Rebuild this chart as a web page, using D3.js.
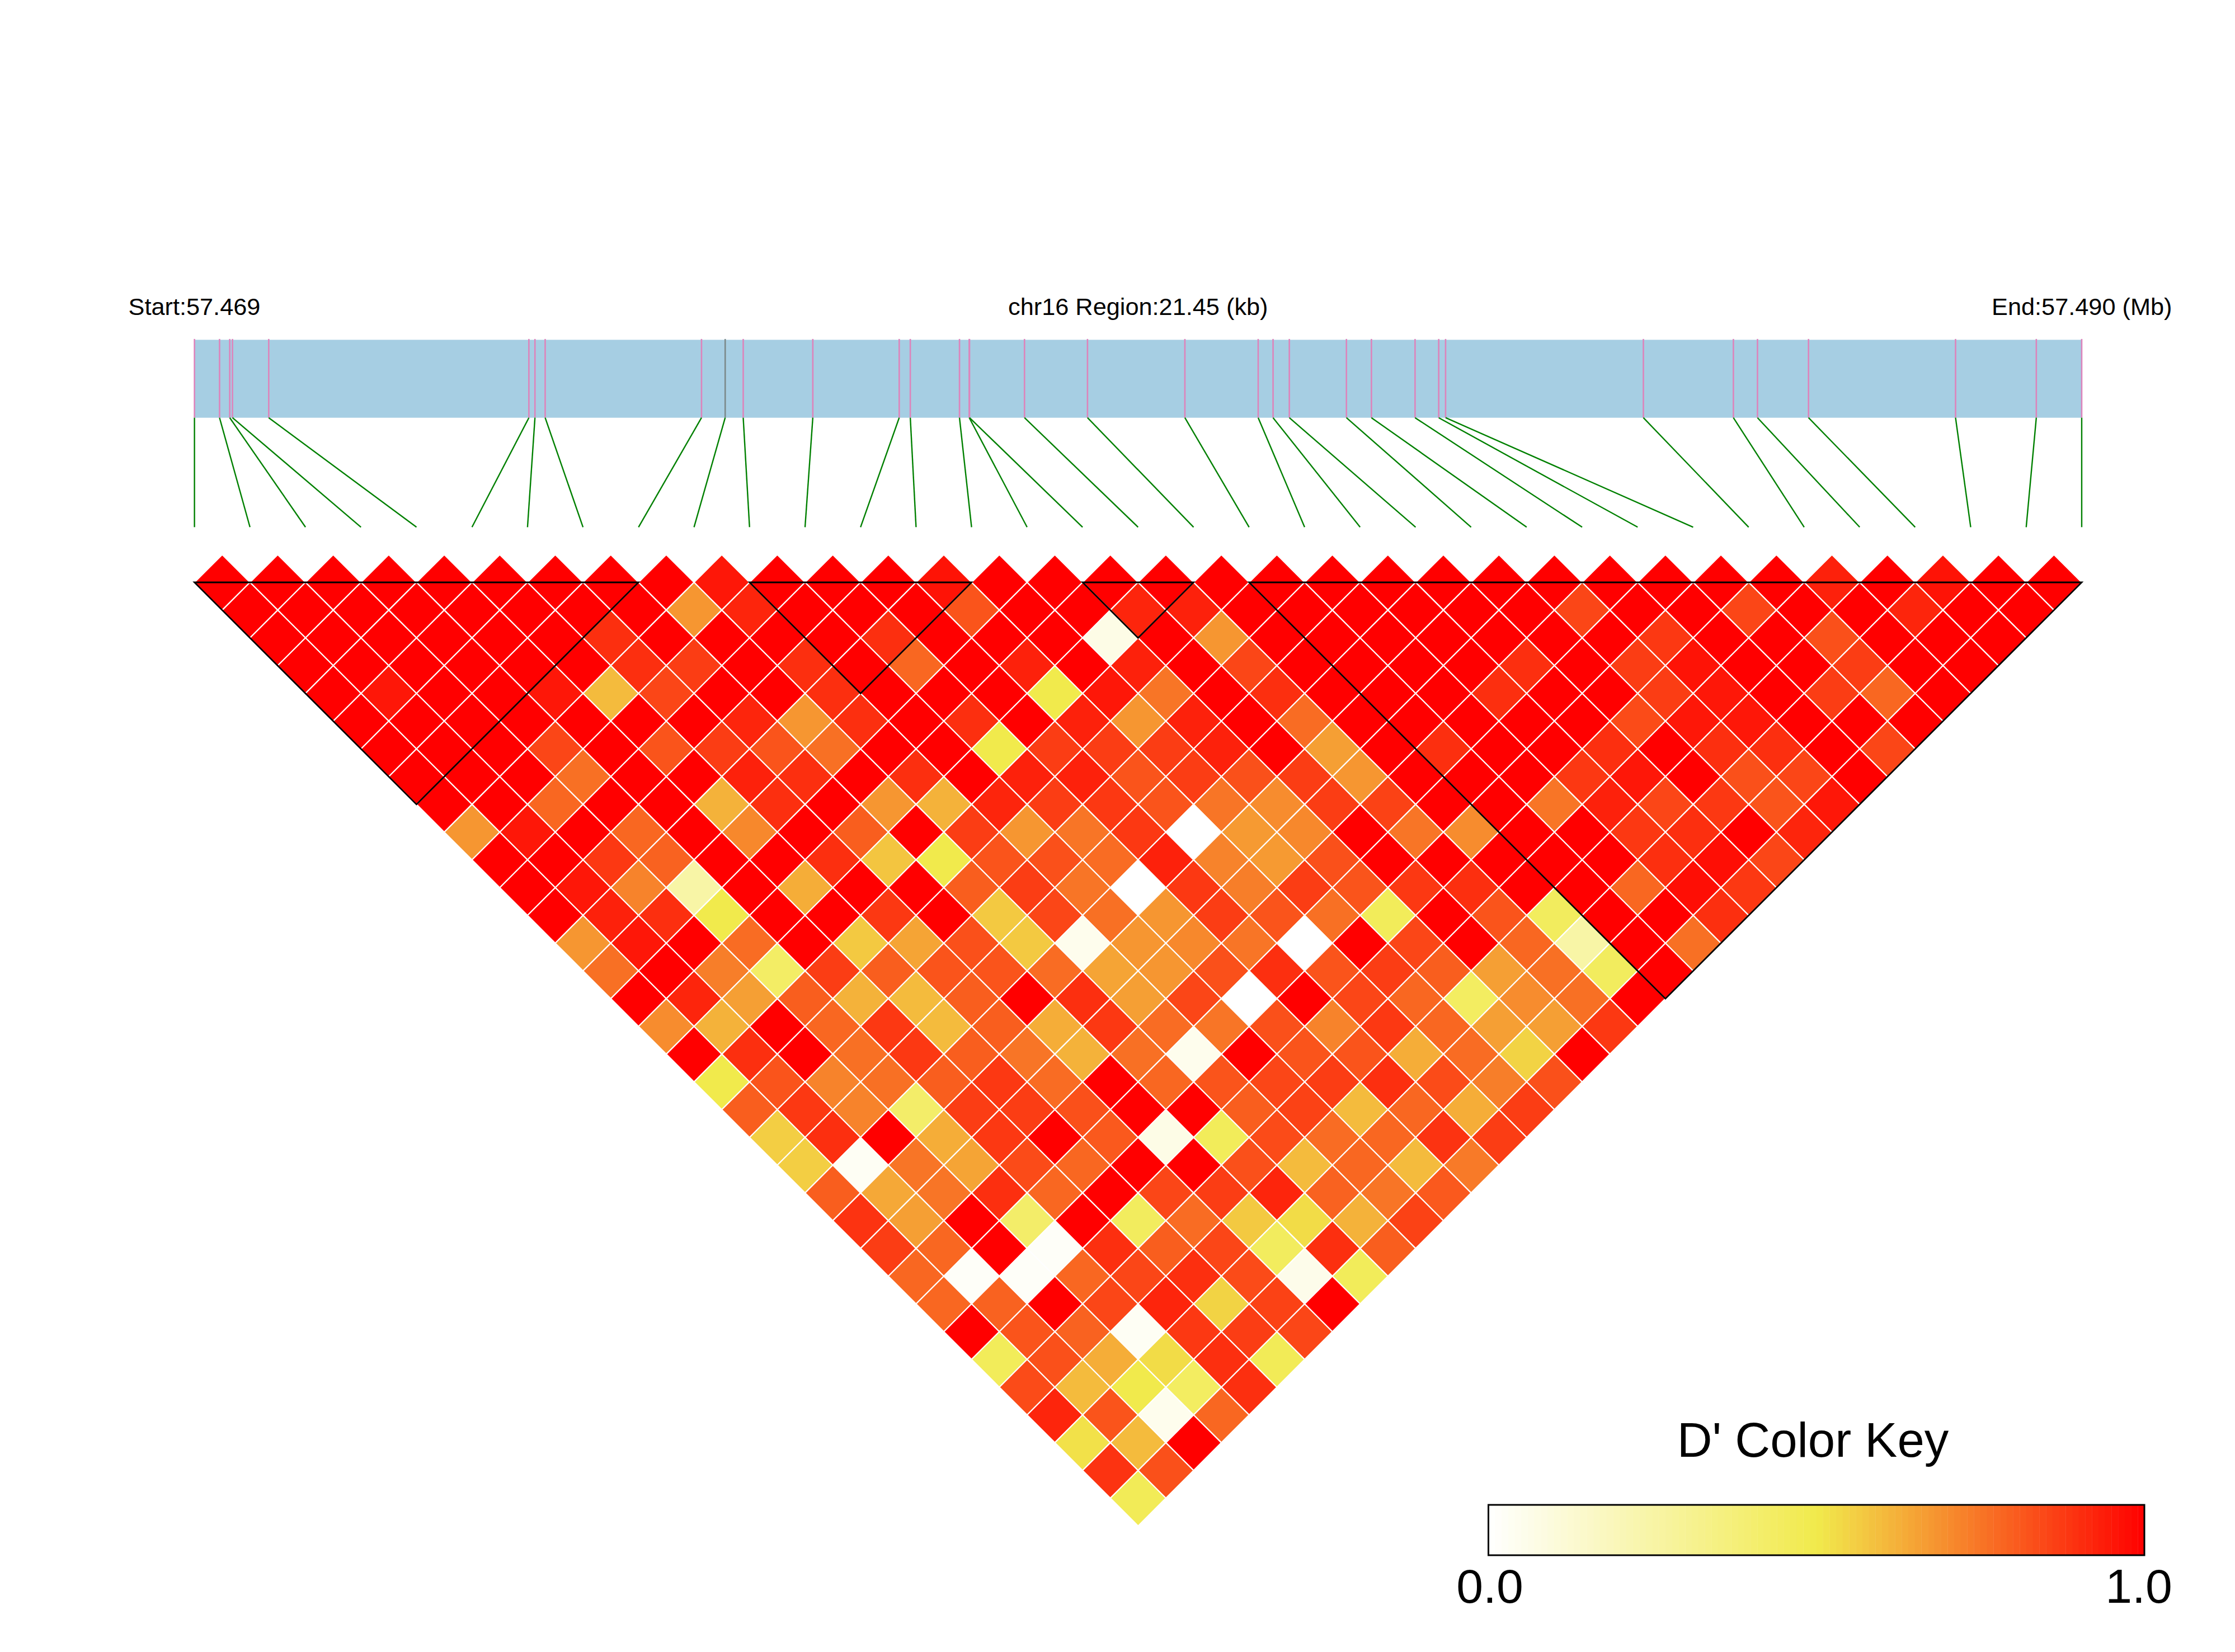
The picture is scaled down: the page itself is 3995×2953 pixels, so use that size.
<!DOCTYPE html>
<html><head><meta charset="utf-8">
<script src="https://cdn.jsdelivr.net/npm/d3@7/dist/d3.min.js"></script>
<style>html,body{margin:0;padding:0;background:#fff}svg{display:block}text{font-family:"Liberation Sans",Arial,sans-serif;fill:#000}</style>
</head><body><svg id="c" width="3995" height="2953"></svg>
<script>
// SNP positions, kb from region start
const snpKb = [0,.285,.401,.432,.844,3.801,3.870,3.986,5.763,6.032,6.237,7.028,8.010,8.136,8.695,8.806,8.809,9.434,10.150,11.257,12.090,12.259,12.444,13.093,13.377,13.873,14.142,14.220,16.468,17.491,17.765,18.345,20.016,20.934,21.45];
const greySnp = [9];
const regionKb = 21.45;
// haplotype blocks: first and last SNP index
const blockStart = [0,10,16,19];
const blockEnd = [8,14,18,34];
// D' values: rowN holds pairs (a, a+N+1), a = 0...
const row0=[1,1,1,1,1,1,1,1,1,.95,1,1,1,.96,1,1,1,1,1,1,1,1,1,1,1,1,1,1,1,.93,1,.96,1,1];
const row1=[1,1,1,1,1,1,1,1,.68,.92,1,1,1,.82,1,1,.92,.93,1,1,1,1,1,1,.85,1,1,.85,1,1,.92,1,1];
const row2=[1,1,1,1,1,1,.9,1,1,1,1,.9,1,1,1,.07,1,.68,1,1,1,1,1,1,1,.88,1,1,.83,1,1,1];
const row3=[1,1,1,1,1,1,.9,.87,1,.9,1,.78,1,.93,1,.93,1,.85,1,1,1,1,.9,1,.87,.96,1,1,.87,1,1];
const row4=[1,.95,1,1,.95,.6,.85,1,1,.9,1,1,1,.5,.95,.75,1,.9,1,1,1,.9,1,1,.87,.95,1,.87,.78,1];
const row5=[1,1,1,1,1,1,1,.92,.68,.9,1,.9,1,.93,.68,.93,1,.77,1,1,1,1,1,.84,.95,.95,1,1,1];
const row6=[1,1,1,.85,1,.82,.87,.82,.76,1,1,.5,.87,.87,.87,.93,1,.66,1,.9,1,1,.9,1,.9,.9,1,.85];
const row7=[1,1,1,.76,1,1,.93,.9,1,.9,1,.93,.93,.82,.87,.83,.87,.68,1,1,1,.88,.95,1,.83,.85,1];
const row8=[1,1,.78,1,1,.62,.9,1,.68,.62,.92,.87,.88,.82,.75,.7,.87,.86,1,1,.75,.93,.85,.88,.82,.95];
const row9=[.68,.95,1,.78,1,.71,1,.8,1,.87,.68,.75,.88,0,.67,.71,1,.75,.7,1,1,.88,.9,1,.92];
const row10=[1,1,.88,.79,1,1,.9,.58,.5,.82,.83,.77,.93,.72,.67,.83,1,1,1,1,1,.9,.97,.85];
const row11=[1,.95,.72,.25,1,.63,1,1,.8,.87,.75,0,.88,.73,.87,.82,.88,.9,1,1,.78,.97,.88];
const row12=[1,.93,.9,.5,1,1,.88,1,.57,.85,.76,.68,.87,.82,.76,.46,1,.82,.45,1,1,.9];
const row13=[.68,.95,1,.77,1,.57,.65,.83,.57,.05,.68,.71,.75,0,1,.85,1,.78,.25,1,.76];
const row14=[.76,1,.73,.43,.87,.8,.82,.82,.77,.65,.68,.83,.9,.82,.87,.8,.66,.76,.45,1];
const row15=[1,.92,.66,.8,.62,.6,.8,1,.9,.66,.85,0,1,.85,.78,.44,.7,.76,1];
const row16=[.7,.62,1,.78,.88,.6,.8,.63,.88,.77,.75,.83,.72,.88,.78,.66,.66,.88];
const row17=[1,.9,1,.76,.88,.8,.75,.62,.76,.05,1,.82,.82,.63,.77,.55,1];
const row18=[.5,.82,.72,.76,.8,.88,.77,1,.78,.82,.85,.87,.9,.84,.73,.83];
const row19=[.8,.88,.72,.42,.87,.87,.83,1,1,.8,.86,.6,.78,.63,.87];
const row20=[.56,.9,1,.63,.88,1,.81,.07,.46,.84,.77,.78,.89,.87];
const row21=[.56,.03,.75,.65,.84,.78,1,1,.83,.6,.78,.6,.74];
const row22=[.8,.64,.75,.9,.78,1,.85,.87,.92,.79,.75,.81];
const row23=[.89,.66,1,.42,1,.45,.77,.57,.53,.62,.86];
const row24=[.87,.78,1,.02,.9,.8,.85,.45,.9,.8];
const row25=[.78,.02,.02,.78,.85,.9,.84,.06,.46];
const row26=[.78,.79,1,.85,.92,.55,.86,1];
const row27=[1,.82,.79,.03,.88,.87,.85];
const row28=[.46,.83,.63,.53,.9,.47];
const row29=[.84,.6,.5,.44,.9];
const row30=[.92,.82,.05,.78];
const row31=[.52,.6,1];
const row32=[.89,.83];
const row33=[.47];
const rows=[row0,row1,row2,row3,row4,row5,row6,row7,row8,row9,row10,row11,row12,row13,row14,row15,row16,row17,row18,row19,row20,row21,row22,row23,row24,row25,row26,row27,row28,row29,row30,row31,row32,row33];
const keyTicks=["0.0","1.0"];

const svg=d3.select("#c");
const L=347.6,R=3721,Y0=1041;
const n=snpKb.length;
const gx=d3.scaleLinear([0,regionKb],[L,R]);
const ix=d3.scaleLinear([0,n-1],[L,R]);
const dy=(R-L)/(n-1)/2;
const iy=d3.scaleLinear([0,1],[Y0,Y0+dy]);
const color=d3.scaleLinear([0,.5,1],["#ffffff","#F1EA4C","#ff0000"]);

// gene bar
const barTop=607.4,barBot=746.7,fanBot=942.3;
svg.append("rect").attr("x",L).attr("y",barTop).attr("width",R-L).attr("height",barBot-barTop).attr("fill","#A6CEE3");
svg.append("g").selectAll("line").data(snpKb).join("line")
 .attr("x1",d=>gx(d)).attr("x2",d=>gx(d)).attr("y1",barTop-1.5).attr("y2",barBot)
 .attr("stroke",(d,i)=>greySnp.includes(i)?"#7c8a8a":"#DD84BB").attr("stroke-width",2.6);
svg.append("g").selectAll("line").data(snpKb).join("line")
 .attr("x1",d=>gx(d)).attr("x2",(d,i)=>ix(i)).attr("y1",barBot).attr("y2",fanBot)
 .attr("stroke","#008000").attr("stroke-width",2.4);

// labels
const topLabels=svg.append("g").attr("font-size",43.3);
topLabels.append("text").attr("x",229.5).attr("y",563.4).text("Start:57.469");
topLabels.append("text").attr("x",(L+R)/2).attr("y",563.4).attr("text-anchor","middle").text("chr16 Region:21.45 (kb)");
topLabels.append("text").attr("x",3560).attr("y",563.4).text("End:57.490 (Mb)");

// cells
const cells=rows.flatMap((row,r)=>row.map((v,a)=>({a,r,v})));
svg.append("g").selectAll("path").data(cells).join("path")
 .attr("d",d=>{const cx=(ix(d.a)+ix(d.a+d.r+1))/2,cy=iy(d.r);
   return d3.line()([[cx,cy-dy],[cx+dy,cy],[cx,cy+dy],[cx-dy,cy]])+"Z";})
 .attr("fill",d=>color(d.v)).attr("stroke","#fff").attr("stroke-width",2.2);

// block outlines
svg.append("g").selectAll("path").data(blockStart.map((s,i)=>[s,blockEnd[i]])).join("path")
 .attr("d",([s,e])=>d3.line()([[ix(s),Y0],[ix(e),Y0],[(ix(s)+ix(e))/2,iy(e-s)]])+"Z")
 .attr("fill","none").attr("stroke","#000").attr("stroke-width",2.8);

// colour key
const kx=d3.scaleLinear([0,1],[2660.5,3833]);
const kLabelX=d3.scaleLinear([0,1],[2663,3823]);
const kTop=2690,kBot=2780;
const steps=d3.range(0,100);
svg.append("g").selectAll("rect").data(steps).join("rect")
 .attr("x",d=>kx(d/100)).attr("y",kTop).attr("width",kx(.01)-kx(0)+.4).attr("height",kBot-kTop)
 .attr("fill",d=>color((d+.5)/100));
svg.append("rect").attr("x",kx(0)).attr("y",kTop).attr("width",kx(1)-kx(0)).attr("height",kBot-kTop)
 .attr("fill","none").attr("stroke","#000").attr("stroke-width",3);
svg.append("text").attr("x",3240.5).attr("y",2604).attr("text-anchor","middle").attr("font-size",87).text("D' Color Key");
svg.append("g").selectAll("text").data(keyTicks).join("text")
 .attr("x",(d,i)=>kLabelX(i)).attr("y",2865).attr("text-anchor","middle").attr("font-size",86).text(d=>d);
</script></body></html>
